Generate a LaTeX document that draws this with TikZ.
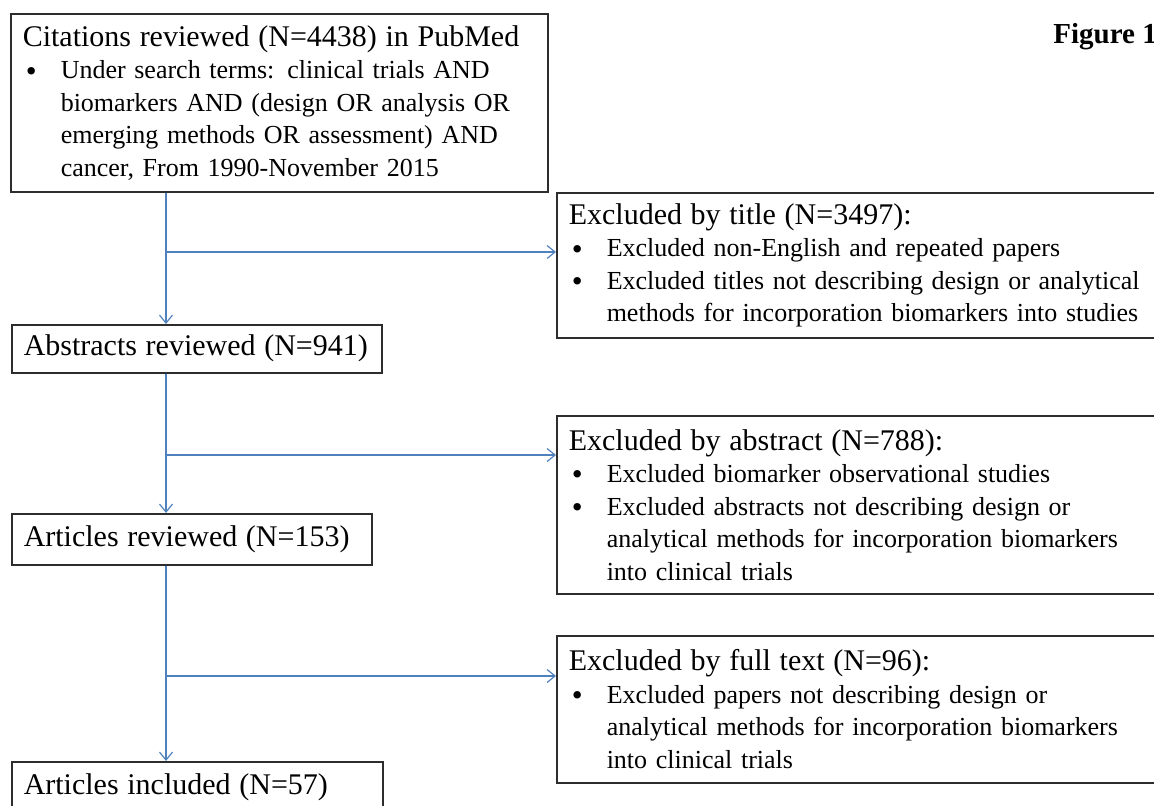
\documentclass[tikz,border=0pt]{standalone}
\usepackage{fontspec}
\setmainfont{Liberation Serif}
\usetikzlibrary{arrows.meta}
\definecolor{arrowblue}{RGB}{79,129,189}
\definecolor{boxgray}{RGB}{45,45,45}
\newcommand{\hd}[1]{{\fontsize{15}{16.25}\selectfont #1}}
\newcommand{\bull}{\makebox[19pt][l]{\hspace{1.5pt}\raisebox{-1.2pt}{\fontsize{15.5}{16.25}\selectfont\textbullet}}}
\newcommand{\bind}{\hspace*{19pt}}
\tikzset{
    box/.style={draw=boxgray, line width=0.75pt, anchor=north west, align=left,
                inner xsep=6pt, inner ysep=2pt, font=\fontsize{13}{16.25}\selectfont},
    flow/.style={draw=arrowblue, line width=0.6pt, -{Straight Barb[length=4pt,width=6.5pt]}}
}
\begin{document}
\begin{tikzpicture}[x=0.5pt, y=0.5pt]
        \useasboundingbox (0,0) rectangle (1154,-805);
        \clip (0,0) rectangle (1154,-805);
        %left column
        \node (cite) at (10,-13)[box, text width=256.5pt, minimum height=89pt]{\hd{Citations reviewed (N=4438) in PubMed}\\
            \bull Under search terms: clinical trials AND\\
            \bind biomarkers AND (design OR analysis OR\\
            \bind emerging methods OR assessment) AND\\
            \bind cancer, From 1990-November 2015};
        \node (abst) at (11,-324)[box, text width=173pt, minimum height=24pt]{\hd{Abstracts reviewed (N=941)}};
        \node (artrev) at (11,-513)[box, text width=168pt, minimum height=25.5pt]{\hd{Articles reviewed (N=153)}};
        \node (artinc) at (11,-761)[box, text width=173.5pt, minimum height=26pt]{\hd{Articles included (N=57)}};
        %right column
        \node (extitle) at (556,-192)[box, text width=295pt, minimum height=72.5pt]{\hd{Excluded by title (N=3497):}\\
            \bull Excluded non-English and repeated papers\\
            \bull Excluded titles not describing design or analytical\\
            \bind methods for incorporation biomarkers into studies};
        \node (exabs) at (556,-415)[box, text width=295pt, minimum height=89pt]{\hd{Excluded by abstract (N=788):}\\
            \bull Excluded biomarker observational studies\\
            \bull Excluded abstracts not describing design or\\
            \bind analytical methods for incorporation biomarkers\\
            \bind into clinical trials};
        \node (exfull) at (556,-635)[box, text width=295pt, minimum height=73.5pt]{\hd{Excluded by full text (N=96):}\\
            \bull Excluded papers not describing design or\\
            \bind analytical methods for incorporation biomarkers\\
            \bind into clinical trials};
        %label
        \node (fig) at (1053,-37)[anchor=west, inner sep=0pt, font=\bfseries\fontsize{14.5}{16}\selectfont]{Figure 1};

        %branch points
        \coordinate (t1) at (166,-252);
        \coordinate (t2) at (166,-455);
        \coordinate (t3) at (166,-676);
        %arrows
        \draw[flow](t1 |- cite.south)--(t1 |- abst.north);
        \draw[flow](t1)--(t1 -| extitle.west);
        \draw[flow](t2 |- abst.south)--(t2 |- artrev.north);
        \draw[flow](t2)--(t2 -| exabs.west);
        \draw[flow](t3 |- artrev.south)--(t3 |- artinc.north);
        \draw[flow](t3)--(t3 -| exfull.west);
\end{tikzpicture}
\end{document}
